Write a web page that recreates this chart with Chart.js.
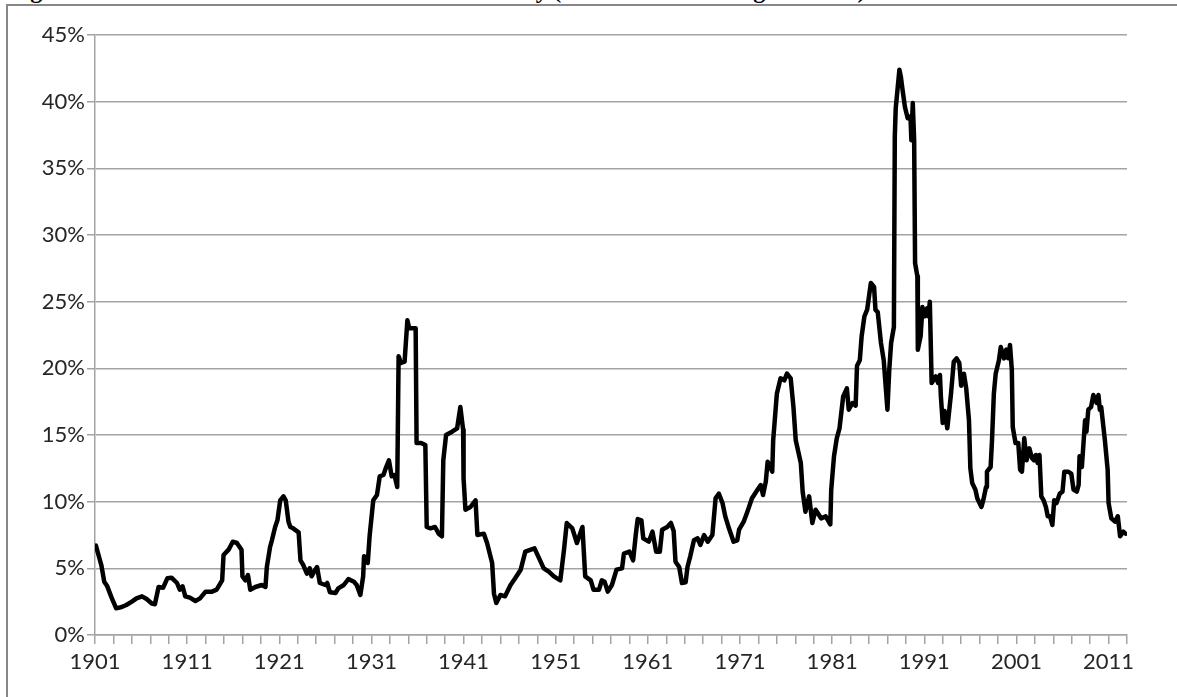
<!DOCTYPE html>
<html><head><meta charset="utf-8">
<script src="https://cdn.jsdelivr.net/npm/chart.js@4.4.1/dist/chart.umd.min.js"></script>
<style>
html,body{margin:0;padding:0;background:#fff;overflow:hidden;width:1177px;height:697px;}
#title{position:absolute;left:10px;top:-22px;font:bold 24px "Liberation Serif","Times New Roman",serif;line-height:24px;white-space:nowrap;color:#000;}
#t1{letter-spacing:-0.55px;}
#frame{position:absolute;left:6px;top:4px;width:1300px;height:800px;border-left:2px solid #878787;border-top:2px solid #878787;pointer-events:none;}
canvas{position:absolute;left:0;top:0;}
</style></head><body>
<div id="title"><span id="t1">Figure 1: Historical Annualised Stock Market Volatility</span> <span>(Annualised Trailing 10 Years)</span></div>
<canvas id="c" width="1177" height="697"></canvas>
<div id="frame"></div>
<script>
const years = [
1901.1,1901.3,1901.5,1901.7,1902.0,1902.3,1902.8,1903.3,1903.9,1904.4,1905.0,1905.5,1906.1,1906.6,1907.2,1907.5,1907.9,1908.4,1908.85,1909.3,
1909.9,1910.2,1910.5,1910.8,1911.3,1911.9,1912.4,1913.0,1913.7,1914.2,1914.8,1914.95,1915.5,1915.95,1916.4,1916.9,1917.0,1917.3,1917.6,1917.85,
1918.4,1919.1,1919.5,1919.65,1920.0,1920.2,1920.55,1920.8,1921.1,1921.45,1921.7,1922.0,1922.2,1922.5,1923.1,1923.3,1923.6,1924.0,1924.3,1924.5,
1924.9,1925.1,1925.4,1926.0,1926.2,1926.5,1927.1,1927.4,1928.0,1928.5,1929.1,1929.4,1929.8,1930.1,1930.2,1930.6,1930.8,1931.2,1931.6,1931.9,
1932.3,1932.6,1932.9,1933.2,1933.5,1933.8,1933.95,1934.2,1934.6,1934.9,1935.1,1935.8,1935.9,1936.4,1936.85,1937.0,1937.4,1937.9,1938.3,1938.65,
1938.8,1939.1,1939.75,1940.3,1940.65,1940.95,1941.0,1941.2,1941.75,1942.3,1942.5,1943.2,1943.55,1944.1,1944.3,1944.55,1945.0,1945.5,1946.1,1946.6,
1947.2,1947.7,1948.3,1948.7,1949.2,1949.7,1950.25,1950.8,1951.5,1951.9,1952.2,1952.8,1953.3,1953.9,1954.2,1954.8,1955.1,1955.7,1956.0,1956.3,
1956.65,1957.1,1957.6,1958.2,1958.4,1959.0,1959.4,1959.7,1959.9,1960.3,1960.5,1961.1,1961.5,1961.9,1962.3,1962.55,1963.1,1963.5,1963.8,1964.0,
1964.4,1964.7,1965.1,1965.3,1965.6,1966.0,1966.4,1966.7,1967.1,1967.5,1968.0,1968.35,1968.7,1969.1,1969.4,1969.8,1970.3,1970.7,1970.9,1971.4,
1971.8,1972.3,1972.9,1973.25,1973.5,1973.8,1974.0,1974.5,1974.6,1974.75,1975.0,1975.4,1975.8,1976.1,1976.5,1976.8,1977.05,1977.6,1977.8,1978.1,
1978.5,1978.85,1979.2,1979.8,1980.3,1980.8,1980.9,1981.2,1981.5,1981.8,1982.2,1982.6,1982.8,1983.2,1983.55,1983.7,1984.0,1984.2,1984.5,1984.8,
1985.2,1985.55,1985.7,1985.95,1986.3,1986.6,1987.0,1987.2,1987.4,1987.7,1987.8,1987.9,1988.3,1988.45,1988.6,1988.9,1989.2,1989.5,1989.6,1989.75,
1989.9,1990.0,1990.25,1990.3,1990.6,1990.8,1991.05,1991.3,1991.45,1991.6,1991.8,1992.25,1992.5,1992.7,1992.8,1993.0,1993.2,1993.5,1993.9,1994.2,
1994.5,1994.8,1995.0,1995.3,1995.55,1995.85,1996.0,1996.2,1996.55,1996.75,1997.2,1997.4,1997.7,1997.8,1998.2,1998.35,1998.55,1998.75,1999.1,1999.3,
1999.65,1999.9,2000.1,2000.3,2000.5,2000.6,2000.9,2001.2,2001.4,2001.6,2001.85,2002.1,2002.4,2002.7,2002.9,2003.1,2003.3,2003.5,2003.7,2003.95,
2004.2,2004.4,2004.65,2004.9,2005.1,2005.35,2005.7,2006.0,2006.2,2006.6,2006.95,2007.2,2007.55,2007.75,2007.85,2008.1,2008.3,2008.45,2008.6,2008.8,
2009.1,2009.35,2009.7,2009.9,2010.05,2010.2,2010.6,2010.9,2011.0,2011.3,2011.7,2012.0,2012.25,2012.6,2012.85
];
const vol = [
6.7,6.2,5.7,5.2,4.0,3.7,2.8,2.0,2.1,2.25,2.5,2.75,2.9,2.7,2.35,2.3,3.6,3.55,4.25,4.3,
3.9,3.4,3.65,2.9,2.8,2.55,2.75,3.25,3.25,3.4,4.1,6.0,6.4,7.0,6.9,6.4,4.4,4.1,4.5,3.4,
3.6,3.75,3.6,5.1,6.6,7.1,8.1,8.6,10.1,10.4,10.1,8.5,8.1,8.0,7.7,5.6,5.25,4.6,5.0,4.4,
4.9,5.1,3.9,3.75,3.9,3.2,3.15,3.5,3.75,4.2,4.0,3.75,3.0,4.4,5.9,5.4,7.4,10.1,10.5,11.9,
12.0,12.6,13.1,11.9,12.0,11.1,20.9,20.4,20.5,23.6,23.0,23.0,14.4,14.4,14.25,8.1,8.0,8.1,7.6,7.4,
13.1,15.0,15.25,15.5,17.1,15.4,11.75,9.4,9.6,10.1,7.5,7.6,6.9,5.4,3.1,2.4,3.0,2.9,3.75,4.25,
4.9,6.25,6.4,6.5,5.75,5.0,4.75,4.4,4.1,6.4,8.4,8.0,6.9,8.1,4.4,4.1,3.4,3.4,4.1,4.0,
3.25,3.75,4.9,5.0,6.1,6.25,5.6,7.6,8.7,8.6,7.25,7.0,7.75,6.25,6.25,7.9,8.1,8.4,7.8,5.5,
5.1,3.9,3.95,5.1,5.9,7.1,7.25,6.75,7.5,7.0,7.5,10.25,10.6,9.9,8.9,8.0,7.0,7.1,7.9,8.5,
9.25,10.25,10.9,11.25,10.5,11.5,13.0,12.25,14.6,15.9,18.1,19.25,19.1,19.6,19.25,17.1,14.6,12.9,10.75,9.25,
10.4,8.4,9.4,8.75,8.9,8.3,10.9,13.4,14.75,15.5,17.9,18.5,16.9,17.4,17.2,20.2,20.6,22.4,23.9,24.4,
26.4,26.1,24.4,24.2,21.9,20.6,16.9,19.9,21.9,23.1,37.4,39.5,42.4,41.9,41.1,39.6,38.75,38.9,37.1,39.9,
37.1,27.9,26.9,21.4,22.4,24.6,23.9,24.5,23.9,25.0,18.9,19.4,18.9,19.5,17.9,15.9,16.8,15.5,18.1,20.5,
20.75,20.4,18.7,19.6,18.5,16.1,12.5,11.4,10.9,10.25,9.6,10.1,11.1,12.25,12.6,14.6,18.1,19.6,20.6,21.6,
20.75,21.4,20.75,21.75,19.9,15.6,14.4,14.4,12.4,12.25,14.75,13.1,14.0,13.25,13.1,13.5,12.9,13.5,10.4,10.1,
9.6,8.9,8.9,8.25,10.1,9.9,10.6,10.75,12.25,12.25,12.1,10.9,10.75,11.25,13.4,12.6,14.6,16.1,15.25,16.9,
17.1,18.0,17.4,18.0,16.9,17.1,14.6,12.4,9.9,8.75,8.5,8.9,7.4,7.75,7.6
];
const tickStart = 1901, tickEnd = 2013, tickStep = 2, labelEvery = 10;
const yMin = 0, yMax = 45, yStep = 5;

const gridCol = '#a3a3a3';
const txtCol = '#262626';
const fontFam = 'Lato, "Liberation Sans", sans-serif';

new Chart(document.getElementById('c'), {
  type: 'line',
  data: { datasets: [{
    data: years.map((x, i) => ({ x: x, y: vol[i] })),
    borderColor: '#000', borderWidth: 4.5, pointRadius: 0, tension: 0,
    borderJoinStyle: 'round', borderCapStyle: 'round', fill: false
  }]},
  options: {
    responsive: false, animation: false, devicePixelRatio: 1,
    layout: { padding: { left: 0, right: 50, top: 35, bottom: 0 } },
    plugins: { legend: { display: false }, tooltip: { enabled: false }, title: { display: false } },
    scales: {
      x: {
        type: 'linear', min: tickStart, max: tickEnd,
        afterFit(s) { s.height = 62; },
        afterBuildTicks(s) { const t = []; for (let v = tickStart; v <= tickEnd; v += tickStep) t.push({ value: v }); s.ticks = t; },
        grid: { drawOnChartArea: false, drawTicks: true, tickLength: 9, color: gridCol, lineWidth: 1.5 },
        border: { display: true, color: gridCol, width: 1.5 },
        ticks: { autoSkip: false, maxRotation: 0, padding: 5, color: txtCol, font: { family: fontFam, size: 22 },
          callback: (v) => ((v - tickStart) % labelEvery === 0 ? String(v) : '') }
      },
      y: {
        min: yMin, max: yMax,
        afterFit(s) { s.width = 95; },
        grid: { color: gridCol, lineWidth: 1.5, tickLength: 8 },
        border: { display: true, color: gridCol, width: 1.5 },
        ticks: { stepSize: yStep, padding: 2, color: txtCol, font: { family: fontFam, size: 22 }, callback: (v) => v + '%' }
      }
    }
  }
});
</script>
</body></html>
